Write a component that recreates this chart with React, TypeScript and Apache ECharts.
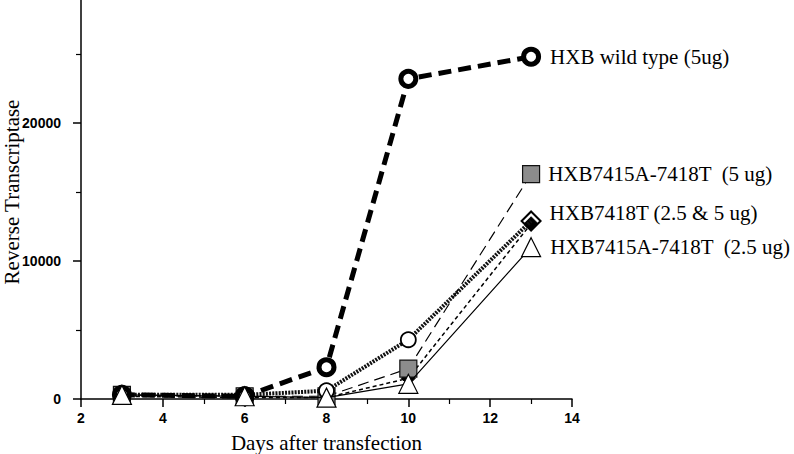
import React, { useEffect, useRef } from "react";
import * as echarts from "echarts";

const days = [3, 6, 8, 10, 13];
const wildType5 = [300, 200, 2300, 23200, 24800];
const mut7415_5 = [300, 200, 200, 2200, 16300];
const mut7418_5 = [300, 300, 600, 4300, 12900];
const mut7418_25 = [200, 100, 100, 1500, 12700];
const mut7415_25 = [300, 200, 100, 1100, 11000];

const names = {
  wt: "HXB wild type (5ug)",
  m5: "HXB7415A-7418T  (5 ug)",
  m18: "HXB7418T (2.5 & 5 ug)",
  m25: "HXB7415A-7418T  (2.5 ug)",
};

const serif = "'Liberation Serif', 'Times New Roman', serif";
const sans = "'Liberation Sans', Arial, sans-serif";

function pts(vals: number[], labelText?: string, lastExtra?: any) {
  return vals.map((v, i) => {
    const item: any = { value: [days[i], v] };
    if (i === vals.length - 1) {
      if (lastExtra) Object.assign(item, lastExtra);
      if (labelText) {
        item.label = { show: true };
      }
    }
    return item;
  });
}

export default function App() {
  const ref = useRef<HTMLDivElement>(null);
  useEffect(() => {
    if (!ref.current) return;
    const chart = echarts.init(ref.current, null, { renderer: "svg" });
    const labelBase = {
      show: false,
      position: "right",
      color: "#000",
      fontFamily: serif,
      fontSize: 21,
    };
    chart.setOption({
      animation: false,
      backgroundColor: "#fff",
      grid: { left: 81, right: 222, top: -15, bottom: 55, containLabel: false, outerBoundsMode: "none" },
      xAxis: {
        type: "value",
        min: 2,
        max: 14,
        interval: 2,
        name: "Days after transfection",
        nameLocation: "middle",
        nameGap: 33,
        nameMoveOverlap: false,
        nameTextStyle: { fontFamily: serif, fontSize: 21, color: "#000" },
        axisLine: { lineStyle: { color: "#000", width: 1.5 } },
        axisTick: { show: true, length: 8, lineStyle: { color: "#000", width: 1.5 } },
        minorTick: { show: true, splitNumber: 2, length: 5, lineStyle: { color: "#000", width: 1.2 } },
        splitLine: { show: false },
        axisLabel: {
          fontFamily: sans,
          fontWeight: "bold",
          fontSize: 14,
          color: "#000",
          margin: 12,
          formatter: (v: number) => String(v),
        },
      },
      yAxis: {
        type: "value",
        min: 0,
        max: 30000,
        interval: 10000,
        name: "Reverse Transcriptase",
        nameLocation: "middle",
        nameRotate: 90,
        nameGap: 59,
        nameMoveOverlap: false,
        nameTextStyle: { fontFamily: serif, fontSize: 21, color: "#000" },
        axisLine: { show: true, lineStyle: { color: "#000", width: 1.5 } },
        axisTick: { show: true, length: 8, lineStyle: { color: "#000", width: 1.5 } },
        minorTick: { show: true, splitNumber: 2, length: 5, lineStyle: { color: "#000", width: 1.2 } },
        splitLine: { show: false },
        axisLabel: {
          fontFamily: sans,
          fontWeight: "bold",
          fontSize: 14,
          color: "#000",
          margin: 20,
          showMaxLabel: false,
          formatter: (v: number) => String(v),
        },
      },
      series: [
        {
          name: "HXB7418T (2.5 ug)",
          type: "line",
          data: pts(mut7418_25),
          symbol: "diamond",
          symbolSize: 14,
          itemStyle: { color: "#000", borderColor: "#000", borderWidth: 1 },
          lineStyle: { color: "#000", width: 1.5, type: [4, 3] },
          z: 2,
        },
        {
          name: names.m5,
          type: "line",
          data: pts(mut7415_5, names.m5),
          symbol: "square",
          symbolSize: 17,
          itemStyle: { color: "#8c8c8c", borderColor: "#111", borderWidth: 1.2 },
          lineStyle: { color: "#000", width: 1.2, type: [11, 6] },
          label: { ...labelBase, distance: 8, formatter: names.m5 },
          z: 3,
        },
        {
          name: names.m18,
          type: "line",
          data: pts(mut7418_5, names.m18, {
            symbol: "diamond",
            symbolSize: 19,
            itemStyle: { color: "rgba(255,255,255,0)", borderColor: "#000", borderWidth: 2 },
          }),
          symbol: "circle",
          symbolSize: 15,
          itemStyle: { color: "#fff", borderColor: "#000", borderWidth: 1.8 },
          lineStyle: { color: "#111", width: 4, type: [2, 1.2] },
          label: { ...labelBase, distance: 8, offset: [0, -8], formatter: names.m18 },
          z: 4,
        },
        {
          name: names.wt,
          type: "line",
          data: pts(wildType5, names.wt),
          symbol: "circle",
          symbolSize: 15,
          itemStyle: { color: "#fff", borderColor: "#000", borderWidth: 5 },
          lineStyle: { color: "#000", width: 5, type: [13, 7] },
          label: { ...labelBase, distance: 9, formatter: names.wt },
          z: 5,
        },
        {
          name: names.m25,
          type: "line",
          data: pts(mut7415_25, names.m25),
          symbol: "triangle",
          symbolSize: 19,
          itemStyle: { color: "#fff", borderColor: "#000", borderWidth: 1.2 },
          lineStyle: { color: "#000", width: 1.2, type: "solid" },
          label: { ...labelBase, distance: 9, formatter: names.m25 },
          z: 6,
        },
      ],
    });
    return () => chart.dispose();
  }, []);
  return (
    <div
      ref={ref}
      style={{ position: "fixed", left: 0, top: 0, width: 794, height: 454, background: "#fff" }}
    />
  );
}
